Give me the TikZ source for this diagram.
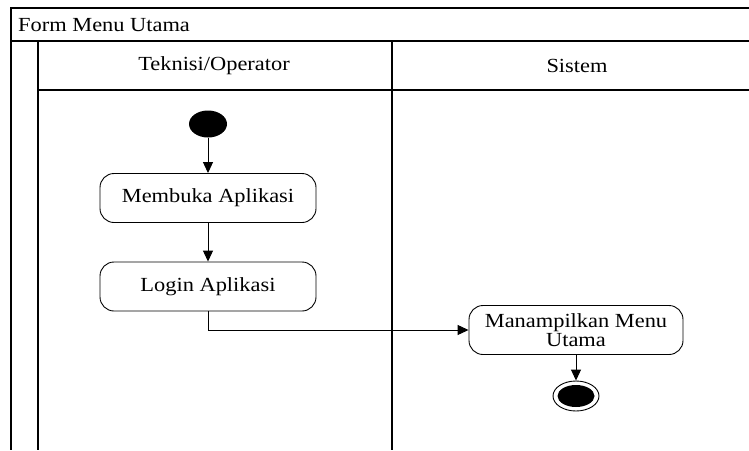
\documentclass[tikz,border=0pt]{standalone}
\usepackage{fontspec}
\setmainfont{Liberation Serif}[FakeStretch=1.12]
\usetikzlibrary{arrows.meta,shapes.geometric}
\begin{document}
\begin{tikzpicture}[x=1pt,y=-1pt,
  lane/.style={line width=1.1pt},
  act/.style={draw, rounded corners=14pt, line width=0.9pt,
    minimum width=216pt, minimum height=49pt, align=center,
    inner sep=0pt, font=\fontsize{20}{18.5}\selectfont},
  flow/.style={line width=1pt, -{Triangle[length=11pt,width=10pt]}},
  lbl/.style={font=\fontsize{20}{18.5}\selectfont, inner sep=0pt}]
\useasboundingbox (0,0) rectangle (749,450);
% swimlane frame
\draw[lane] (749,8) -- (11,8) -- (11,450);
\draw[lane] (11,41) -- (749,41);
\draw[lane] (38,41) -- (38,450);
\draw[lane] (38,90) -- (749,90);
\draw[lane] (392,41) -- (392,450);
\node[lbl, anchor=west] (title) at (18,25) {Form Menu Utama};
\node[lbl] (lane1) at (214,66) {Teknisi/Operator};
\node[lbl] (lane2) at (577,66) {Sistem};
% activities
\node[ellipse, fill=black, minimum width=38pt, minimum height=27pt, inner sep=0pt] (start) at (208,124) {};
\node[act] (buka) at (208,198) {Membuka Aplikasi};
\node[act] (login) at (208,286.5) {Login Aplikasi};
\node[act, minimum width=214pt] (menu) at (576,330) {Manampilkan Menu\\Utama};
\node[ellipse, draw, line width=0.9pt, minimum width=46pt, minimum height=30pt, inner sep=0pt] (end) at (576,396) {};
\node[ellipse, fill=black, minimum width=37pt, minimum height=22pt, inner sep=0pt] (endin) at (end.center) {};
% transitions
\draw[flow] (start) -- (buka);
\draw[flow] (buka) -- (login);
\draw[flow] (login.south) |- (menu.west);
\draw[flow] (menu) -- (end);
\end{tikzpicture}
\end{document}
